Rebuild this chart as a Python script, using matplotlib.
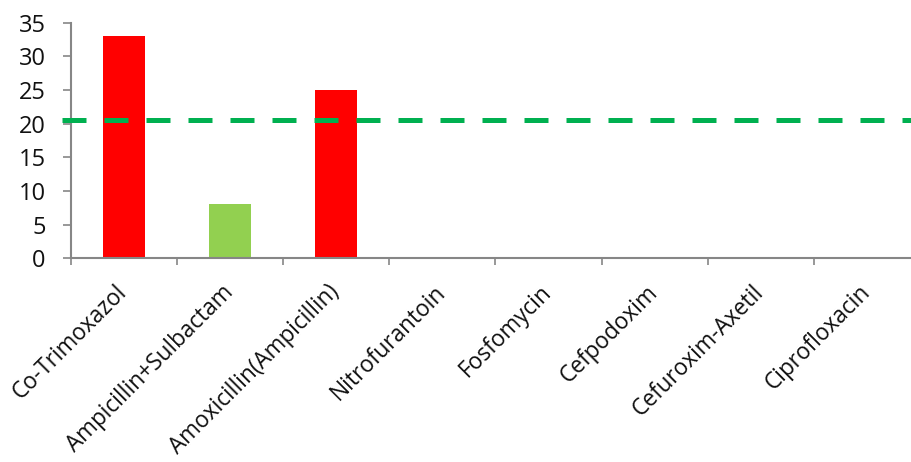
import matplotlib
matplotlib.use("Agg")
import matplotlib.pyplot as plt
import numpy as np

# resistance rates per antibiotic (%)
antibiotics = ["Co-Trimoxazol", "Ampicillin+Sulbactam", "Amoxicillin(Ampicillin)",
               "Nitrofurantoin", "Fosfomycin", "Cefpodoxim", "Cefuroxim-Axetil",
               "Ciprofloxacin"]
resistance = [33, 8, 25, 0, 0, 0, 0, 0]
bar_colors = ["#FF0000", "#92D050", "#FF0000", "#FF0000", "#FF0000",
              "#FF0000", "#FF0000", "#FF0000"]
threshold = 20.5
yticks = [0, 5, 10, 15, 20, 25, 30, 35]

plt.rcParams["font.family"] = ["Open Sans", "DejaVu Sans"]

W, H = 912, 462
fig = plt.figure(figsize=(W / 100, H / 100), dpi=100)
x0, x1 = 70.7, 920.0
y0, y1 = 258.3, 22.7
ax = fig.add_axes([x0 / W, (H - y0) / H, (x1 - x0) / W, (y0 - y1) / H])

x = np.arange(len(antibiotics))
ax.bar(x, resistance, width=0.4, color=bar_colors, zorder=2)

# threshold line, reaching a little past the value axis
ax.plot([-0.58, len(antibiotics) - 0.5], [threshold, threshold],
        color="#00B050", linewidth=3.6, linestyle=(0, (4.8, 3.6)),
        solid_capstyle="butt", dash_capstyle="butt", clip_on=False, zorder=3)

ax.set_xlim(-0.5, len(antibiotics) - 0.5)
ax.set_ylim(0, 35)
ax.set_yticks(yticks)

ax.set_xticks(x)
ax.set_xticklabels(antibiotics, rotation=45, ha="right", va="center",
                   rotation_mode="anchor", fontsize=16.3, color="#111111")
ax.set_xticks(np.arange(len(antibiotics) + 1) - 0.5, minor=True)
ax.tick_params(axis="x", which="major", length=0, pad=22)
ax.tick_params(axis="x", which="minor", length=5, width=1.2, color="#868686")
ax.tick_params(axis="y", length=6, width=1.2, color="#868686", pad=12,
               labelsize=17, labelcolor="#111111")

for side in ("top", "right"):
    ax.spines[side].set_visible(False)
for side in ("left", "bottom"):
    ax.spines[side].set_color("#868686")
    ax.spines[side].set_linewidth(1.5)

fig.savefig("out.png", dpi=100)
